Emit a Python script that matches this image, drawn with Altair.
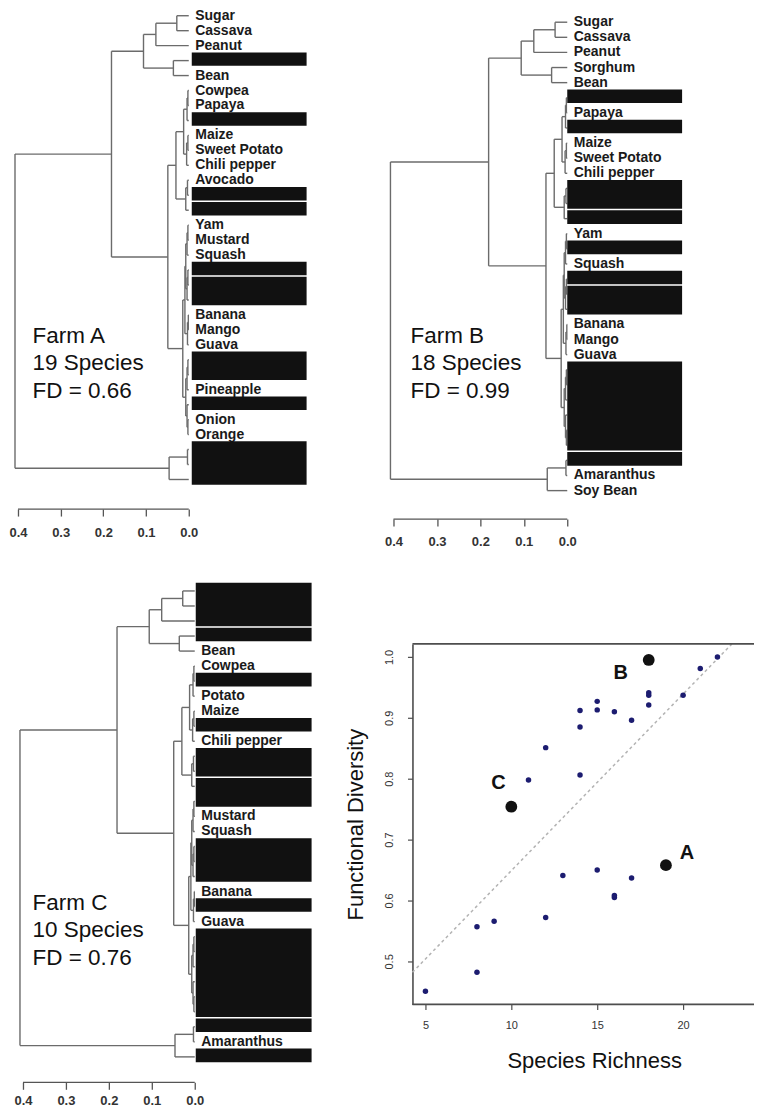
import altair as alt
import pandas as pd

# ---------------- data ----------------
# Shared species-pool dendrogram, hclust style: negative = leaf number (1-based), positive = earlier merge
MERGE_LEFT = [-1, 1, -4, 2, -6, 5, -9, 7, 6, -12, 10, 9, -15, 13, -18, 15, 14, -21, 18, 17,
              -24, 21, -28, -27, 22, 20, 12, 4, -30, 29, 28]
MERGE_RIGHT = [-2, -3, -5, 3, -7, -8, -10, -11, 8, -13, -14, 11, -16, -17, -19, -20, 16, -22, -23, 19,
               -25, -26, -29, 23, 24, 25, 26, 27, -31, -32, 30]
MERGE_HEIGHT = [0.028, 0.077, 0.036, 0.106, 0.002, 0.004, 0.002, 0.005, 0.012, 0.003, 0.007, 0.030,
                0.002, 0.004, 0.002, 0.004, 0.007, 0.001, 0.003, 0.009, 0.002, 0.004, 0.002, 0.004,
                0.007, 0.014, 0.049, 0.181, 0.003, 0.046, 0.407]

LABELS_A = ["Sugar", "Cassava", "Peanut", "", "Bean", "Cowpea", "Papaya", "", "Maize", "Sweet Potato",
            "Chili pepper", "Avocado", "", "", "Yam", "Mustard", "Squash", "", "", "", "Banana", "Mango",
            "Guava", "", "", "Pineapple", "", "Onion", "Orange", "", "", ""]
LABELS_B = ["Sugar", "Cassava", "Peanut", "Sorghum", "Bean", "", "Papaya", "", "Maize", "Sweet Potato",
            "Chili pepper", "", "", "", "Yam", "", "Squash", "", "", "", "Banana", "Mango", "Guava",
            "", "", "", "", "", "", "", "Amaranthus", "Soy Bean"]
LABELS_C = ["", "", "", "", "Bean", "Cowpea", "", "Potato", "Maize", "", "Chili pepper", "", "", "", "",
            "Mustard", "Squash", "", "", "", "Banana", "", "Guava", "", "", "", "", "", "", "",
            "Amaranthus", ""]

BOX_START_A = [3, 7, 12, 13, 17, 18, 23, 26, 29]
BOX_END_A = [3, 7, 12, 13, 17, 19, 24, 26, 31]
BOX_START_B = [5, 7, 11, 13, 15, 17, 18, 23, 29]
BOX_END_B = [5, 7, 12, 13, 15, 17, 19, 28, 29]
BOX_START_C = [0, 3, 6, 9, 11, 13, 17, 21, 23, 29, 31]
BOX_END_C = [2, 3, 6, 9, 12, 14, 19, 21, 28, 29, 31]

TEXT_A = ["Farm A", "19 Species", "FD = 0.66"]
TEXT_B = ["Farm B", "18 Species", "FD = 0.99"]
TEXT_C = ["Farm C", "10 Species", "FD = 0.76"]

HEIGHT_TICKS = [0.4, 0.3, 0.2, 0.1, 0.0]

SR_X = [22, 21, 20, 18, 18, 18, 17, 16, 15, 15, 14, 14, 14, 12, 11,
        13, 15, 17, 16, 16, 12, 9, 8, 8, 5]
SR_Y = [1.0, 0.981, 0.937, 0.941, 0.937, 0.921, 0.896, 0.910, 0.927, 0.913, 0.912, 0.885, 0.806, 0.851, 0.798,
        0.641, 0.650, 0.637, 0.605, 0.608, 0.572, 0.566, 0.557, 0.482, 0.451]
FARM_X = [19, 18, 10]
FARM_Y = [0.658, 0.995, 0.754]
FARM_NAME = ["A", "B", "C"]
REF_X = [4.244, 22.83]
REF_Y = [0.482, 1.021]
SR_TICKS = [5, 10, 15, 20]
FD_TICKS = [0.5, 0.6, 0.7, 0.8, 0.9, 1.0]

# ---------------- styling ----------------
FONT = "Liberation Sans"
LINE = "#6b6b6b"
AXC = "#4d4d4d"


def tree_segments():
    pos, hgt, rows = {}, {}, []

    def node(r):
        return (-r - 1, 0.0) if r < 0 else (pos[r], hgt[r])

    for k, (a, b, h) in enumerate(zip(MERGE_LEFT, MERGE_RIGHT, MERGE_HEIGHT), start=1):
        pa, ha = node(a)
        pb, hb = node(b)
        rows.append(dict(x=h, x2=h, y=pa, y2=pb))
        rows.append(dict(x=h, x2=ha, y=pa, y2=pa))
        rows.append(dict(x=h, x2=hb, y=pb, y2=pb))
        pos[k] = (pa + pb) / 2
        hgt[k] = h
    return pd.DataFrame(rows)


SEG = tree_segments()


def dendro(labels, bstart, bend, text_lines, g):
    xs = alt.Scale(domain=[g["xr"], g["xl"]], reverse=True, nice=False, zero=False)
    ys = alt.Scale(domain=[g["yt"], g["yb"]], reverse=True, nice=False, zero=False)
    xa = alt.Axis(values=HEIGHT_TICKS, format=".1f", domain=False, grid=False, tickSize=7,
                  tickColor="#555555", tickWidth=1.3, labelFontSize=13, labelFontWeight="bold",
                  labelColor="#333333", labelPadding=g["lp"], labelFlush=False, title=None)
    seg = alt.Chart(SEG).mark_rule(color=LINE, strokeWidth=1.4).encode(
        x=alt.X("x:Q", scale=xs, axis=xa), x2="x2:Q",
        y=alt.Y("y:Q", scale=ys, axis=None), y2="y2:Q")
    axr = alt.Chart(pd.DataFrame({"x": [max(HEIGHT_TICKS)], "x2": [min(HEIGHT_TICKS)]})).mark_rule(
        color="#555555", strokeWidth=1.3).encode(x="x:Q", x2="x2:Q", y=alt.value(g["H"]))
    lab_df = pd.DataFrame({"leaf": list(range(len(labels))), "label": labels, "h": [0.0] * len(labels)})
    lab = alt.Chart(lab_df).mark_text(align="left", baseline="middle", dx=6.5, font=FONT, fontSize=14,
                                      fontWeight="bold", color="#1a1a1a").encode(
        x="h:Q", y="leaf:Q", text="label:N")
    box = alt.Chart(pd.DataFrame({"s": bstart, "e": bend})).transform_calculate(
        y0="datum.s - 0.55", y1="datum.e + 0.35").mark_rect(color="#111111").encode(
        x=alt.value(g["bx0"]), x2=alt.value(g["bx1"]), y="y0:Q", y2="y1:Q")
    txt = alt.Chart(pd.DataFrame({"k": [0]})).mark_text(
        align="left", baseline="alphabetic", font=FONT, fontSize=22.5, color="#111111",
        lineHeight=27.5).encode(x=alt.value(g["tx"]), y=alt.value(g["ty"]), text=alt.value(text_lines))
    return alt.layer(seg, axr, lab, box, txt).properties(width=g["W"], height=g["H"])


# panel geometry (plot-area pixels)
GA = dict(W=362, H=499, xl=0.42105, xr=-0.42573, yt=-0.3339, yb=32.977, bx0=183, bx1=298,
          tx=23.6, ty=332.7, lp=10)
GB = dict(W=187, H=509, xl=0.4299, xr=0.0, yt=-0.7592, yb=32.882, bx0=187, bx1=302,
          tx=30, ty=332.7, lp=9)
GC = dict(W=362, H=439, xl=0.43256, xr=-0.40930, yt=3.5216, yb=32.691, bx0=187, bx1=303,
          tx=23.6, ty=266.3, lp=5)

A = dendro(LABELS_A, BOX_START_A, BOX_END_A, TEXT_A, GA)
B = dendro(LABELS_B, BOX_START_B, BOX_END_B, TEXT_B, GB)
C = dendro(LABELS_C, BOX_START_C, BOX_END_C, TEXT_C, GC)

# ---------------- scatter ----------------
SW, SH, SOFF = 374, 361, 32
sx = alt.Scale(domain=[2.384, 24.128], nice=False, zero=False)
sy = alt.Scale(domain=[0.4293, 1.0214], nice=False, zero=False)
x_axis = alt.Axis(values=SR_TICKS, grid=False, domain=False, tickColor=AXC,
                  tickWidth=1.2, tickSize=5, labelFontSize=11, labelColor="#333333", labelPadding=10,
                  labelFlush=False, title="Species Richness", titleFontSize=22, titleFontWeight="normal",
                  titleColor="#111111", titlePadding=20, titleX=214)
y_axis = alt.Axis(values=FD_TICKS, format=".1f", grid=False, domainColor=AXC, domainWidth=1.6,
                  tickColor=AXC, tickWidth=1.2, tickSize=5, labelFontSize=11, labelColor="#333333",
                  labelAngle=270, labelPadding=13, labelFlush=False, title="Functional Diversity",
                  titleFontSize=22, titleFontWeight="normal", titleColor="#111111", titlePadding=16,
                  offset=-SOFF)

ref = alt.Chart(pd.DataFrame({"x": REF_X, "y": REF_Y})).mark_line(
    color="#b3b3b3", strokeDash=[3, 3], strokeWidth=1.5, clip=True).encode(
    x=alt.X("x:Q", scale=sx, axis=x_axis), y=alt.Y("y:Q", scale=sy, axis=y_axis))
small = alt.Chart(pd.DataFrame({"x": SR_X, "y": SR_Y})).mark_circle(
    size=30, color="#1c1c70", opacity=1).encode(x="x:Q", y="y:Q")
farm_df = pd.DataFrame({"x": FARM_X, "y": FARM_Y, "farm": FARM_NAME})
big = alt.Chart(farm_df).mark_circle(size=140, color="#111111", opacity=1).encode(x="x:Q", y="y:Q")
offsets = {"A": (21, -6), "B": (-28, 19), "C": (-13, -18)}
farm_labels = [
    alt.Chart(farm_df).transform_filter(alt.datum.farm == f).mark_text(
        font=FONT, fontSize=20, fontWeight="bold", color="#111111", align="center",
        baseline="alphabetic", dx=d[0], dy=d[1]).encode(x="x:Q", y="y:Q", text="farm:N")
    for f, d in offsets.items()
]
one = pd.DataFrame({"k": [0]})
top_line = alt.Chart(one).mark_rule(color=AXC, strokeWidth=1.6).encode(
    x=alt.value(SOFF), x2=alt.value(SW), y=alt.value(0))
bottom_line = alt.Chart(one).mark_rule(color=AXC, strokeWidth=1.6).encode(
    x=alt.value(SOFF), x2=alt.value(SW), y=alt.value(SH))
S = alt.layer(ref, small, big, *farm_labels, top_line, bottom_line).properties(width=SW, height=SH)

chart = alt.concat(A, B, C, S, columns=2, spacing={"row": 125, "column": 10},
                   bounds="flush").properties(padding=0).configure(font=FONT).configure_view(stroke=None)

chart.save("out.html", embed_options={"renderer": "svg", "actions": False})
